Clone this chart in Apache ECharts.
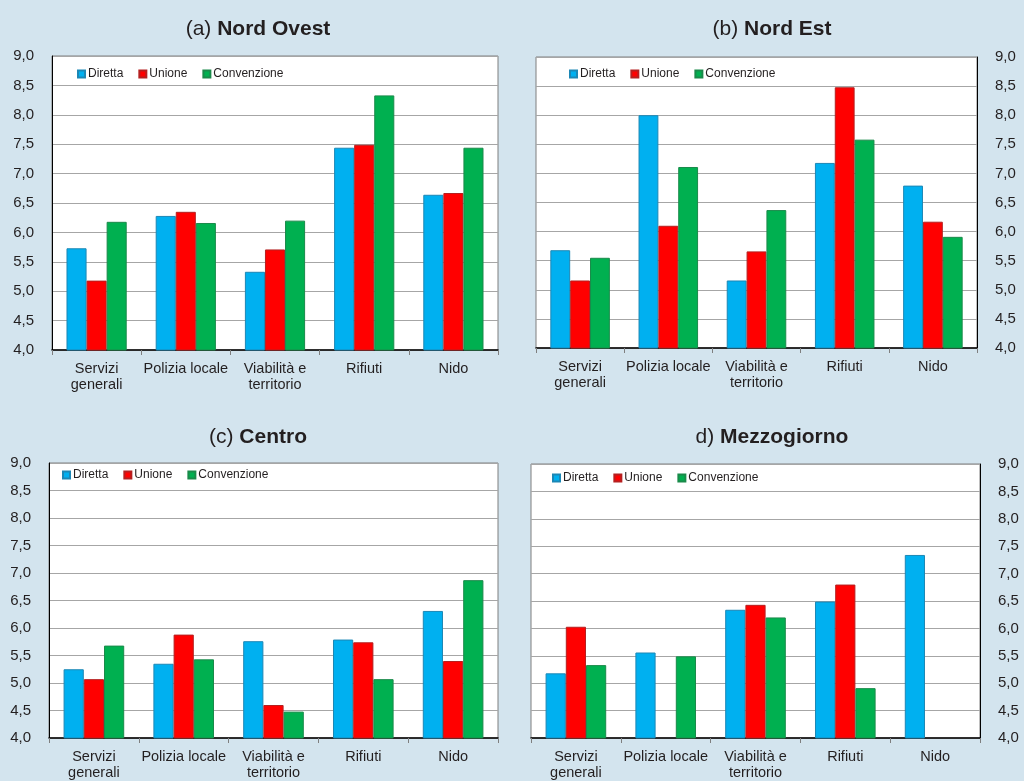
<!DOCTYPE html>
<html>
<head>
<meta charset="utf-8">
<script src="https://cdn.jsdelivr.net/npm/echarts@6/dist/echarts.min.js"></script>
<style>
html,body{margin:0;padding:0;background:#d3e4ee;}
#c{width:1024px;height:781px;}
</style>
</head>
<body>
<div id="c"></div>
<script>
var categories = ['Servizi\ngenerali', 'Polizia locale', 'Viabilità e\nterritorio', 'Rifiuti', 'Nido'];
var seriesNames = ['Diretta', 'Unione', 'Convenzione'];
var yTicks = [4.0, 4.5, 5.0, 5.5, 6.0, 6.5, 7.0, 7.5, 8.0, 8.5, 9.0];

var nordOvestDiretta = [5.73, 6.28, 5.33, 7.44, 6.64];
var nordOvestUnione = [5.18, 6.35, 5.71, 7.49, 6.67];
var nordOvestConvenzione = [6.18, 6.16, 6.20, 8.33, 7.44];

var nordEstDiretta = [5.68, 8.00, 5.16, 7.18, 6.79];
var nordEstUnione = [5.16, 6.10, 5.66, 8.48, 6.17];
var nordEstConvenzione = [5.55, 7.11, 6.37, 7.58, 5.91];

var centroDiretta = [5.25, 5.35, 5.76, 5.79, 6.31];
var centroUnione = [5.07, 5.88, 4.60, 5.74, 5.40];
var centroConvenzione = [5.68, 5.43, 4.48, 5.07, 6.87];

var mezzogiornoDiretta = [5.18, 5.56, 6.34, 6.49, 7.34];
var mezzogiornoUnione = [6.03, null, 6.43, 6.80, null];
var mezzogiornoConvenzione = [5.33, 5.49, 6.20, 4.91, null];

var panelTitles = [['(a) ', 'Nord Ovest'], ['(b) ', 'Nord Est'], ['(c) ', 'Centro'], ['d) ', 'Mezzogiorno']];

var panels = [
  {grid: {left: 52, top: 56, width: 446, height: 294}, side: 'left', title: [258, 29], legend: [77, 68],
   data: [nordOvestDiretta, nordOvestUnione, nordOvestConvenzione]},
  {grid: {left: 536, top: 57, width: 441, height: 291}, side: 'right', title: [772, 29], legend: [569, 68],
   data: [nordEstDiretta, nordEstUnione, nordEstConvenzione]},
  {grid: {left: 49, top: 463, width: 449, height: 277}, side: 'left', title: [258, 437], legend: [62, 469],
   data: [centroDiretta, centroUnione, centroConvenzione]},
  {grid: {left: 531, top: 464, width: 449, height: 275}, side: 'right', title: [772, 437], legend: [552, 472],
   data: [mezzogiornoDiretta, mezzogiornoUnione, mezzogiornoConvenzione]}
];

var colors = ['#00b0f0', '#ff0000', '#00b050'];
var borders = ['#1c87b5', '#b52020', '#1a8a4a'];
var txt = '#231f20';
var font = 'Liberation Sans, Arial, sans-serif';

var option = {
  backgroundColor: '#d3e4ee',
  animation: false,
  textStyle: {fontFamily: font},
  grid: [], xAxis: [], yAxis: [], series: [], legend: [], graphic: []
};

panels.forEach(function (p, i) {
  option.grid.push(Object.assign({show: true, backgroundColor: '#ffffff', borderColor: '#7f7f7f', borderWidth: 1}, p.grid));
  option.xAxis.push({
    type: 'category', gridIndex: i, data: categories,
    axisLine: {show: true, lineStyle: {color: '#000', width: 1.5}},
    axisTick: {show: true, length: 5, lineStyle: {color: '#7f7f7f'}},
    axisLabel: {interval: 0, fontSize: 14.5, lineHeight: 16, margin: 11, color: txt, fontFamily: font},
    splitLine: {show: false}
  });
  option.yAxis.push({
    type: 'value', gridIndex: i, min: yTicks[0], max: yTicks[yTicks.length - 1], interval: 0.5,
    position: p.side,
    axisLine: {show: true, lineStyle: {color: '#000', width: 1}},
    axisTick: {show: false},
    axisLabel: {fontSize: 15, margin: 18, color: txt, fontFamily: font,
      formatter: function (v) { return v.toFixed(1).replace('.', ','); }},
    splitLine: {show: true, lineStyle: {color: '#a6a6a6', width: 1}}
  });
  seriesNames.forEach(function (name, k) {
    option.series.push({
      type: 'bar', name: name, xAxisIndex: i, yAxisIndex: i,
      data: p.data[k],
      barWidth: '22.5%', barGap: '0%',
      itemStyle: {color: colors[k], borderColor: borders[k], borderWidth: 1}
    });
  });
  option.legend.push({
    left: p.legend[0], top: p.legend[1], padding: 0, orient: 'horizontal',
    icon: 'rect', itemWidth: 7, itemHeight: 7, itemGap: 15,
    textStyle: {fontSize: 12, color: txt, fontFamily: font, padding: [0, 0, 0, -2]},
    data: seriesNames, selectedMode: false
  });
  option.graphic.push({
    type: 'text', x: p.title[0], y: p.title[1],
    style: {
      text: '{n|' + panelTitles[i][0] + '}{b|' + panelTitles[i][1] + '}',
      align: 'center', verticalAlign: 'middle',
      rich: {
        n: {fontSize: 21, fontFamily: font, fill: txt, color: txt},
        b: {fontSize: 21, fontWeight: 'bold', fontFamily: font, fill: txt, color: txt}
      }
    }
  });
});

var chart = echarts.init(document.getElementById('c'), null, {renderer: 'canvas'});
chart.setOption(option);
</script>
</body>
</html>
